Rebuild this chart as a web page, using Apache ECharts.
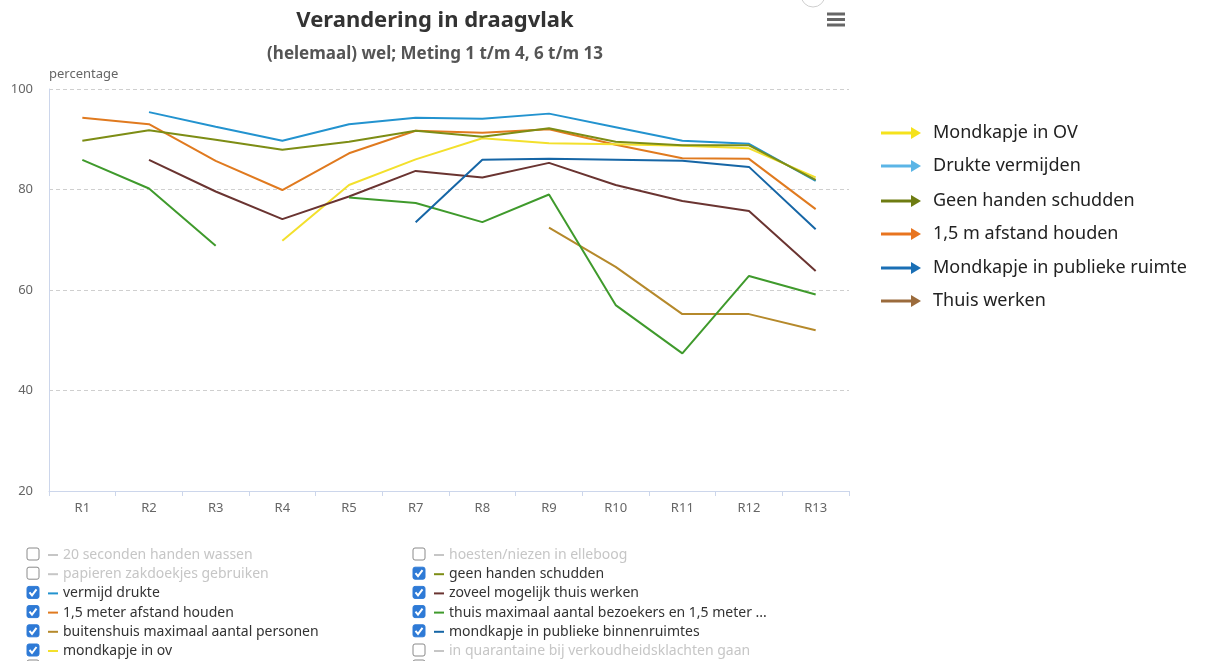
<!DOCTYPE html>
<html lang="nl">
<head>
    <meta charset="utf-8" />
    <title>Verandering in draagvlak</title>
    <script src="https://cdn.jsdelivr.net/npm/echarts@6/dist/echarts.min.js"></script>
    <style>
        html, body { margin: 0; padding: 0; background: #fff; }
        #chart { width: 1221px; height: 661px; }
    </style>
</head>
<body>
<div id="chart"></div>
<script>
// metingen (R6 ontbreekt)
var rondes = ['R1', 'R2', 'R3', 'R4', 'R5', 'R7', 'R8', 'R9', 'R10', 'R11', 'R12', 'R13'];
var yTicks = [20, 40, 60, 80, 100];

// percentages (helemaal) wel
var vermijdDrukte   = [null, 95.4, 92.5, 89.7, 93.0, 94.3, 94.1, 95.1, 92.4, 89.7, 89.1, 81.7];
var afstandHouden   = [94.3, 93.0, 85.7, 79.9, 87.2, 91.7, 91.3, 92.0, 88.9, 86.2, 86.1, 76.1];
var buitenshuis     = [null, null, null, null, null, null, null, 72.4, 64.6, 55.2, 55.2, 52.0];
var mondkapjeOv     = [null, null, null, 69.8, 80.9, 86.0, 90.2, 89.2, 89.0, 88.7, 88.2, 82.4];
var handenSchudden  = [89.7, 91.8, 89.9, 87.9, 89.5, 91.7, 90.5, 92.2, 89.5, 88.8, 88.8, 81.9];
var thuisWerken     = [null, 85.9, 79.6, 74.1, 78.6, 83.7, 82.4, 85.3, 80.9, 77.7, 75.7, 63.8];
var thuisBezoekers  = [85.9, 80.2, 68.8, null, 78.4, 77.3, 73.5, 79.0, 57.0, 47.4, 62.8, 59.1];
var mondkapjeBinnen = [null, null, null, null, null, 73.5, 85.9, 86.1, 85.9, 85.7, 84.5, 72.1];

// legenda kolommen
var legendLinks = ['20 seconden handen wassen', 'papieren zakdoekjes gebruiken', 'vermijd drukte',
    '1,5 meter afstand houden', 'buitenshuis maximaal aantal personen', 'mondkapje in ov'];
var legendRechts = ['hoesten/niezen in elleboog', 'geen handen schudden', 'zoveel mogelijk thuis werken',
    'thuis maximaal aantal bezoekers en 1,5 meter ...', 'mondkapje in publieke binnenruimtes',
    'in quarantaine bij verkoudheidsklachten gaan'];
var uitgezet = ['20 seconden handen wassen', 'papieren zakdoekjes gebruiken',
    'hoesten/niezen in elleboog', 'in quarantaine bij verkoudheidsklachten gaan'];

// toelichting rechts
var pijlTeksten = ['Mondkapje in OV', 'Drukte vermijden', 'Geen handen schudden',
    '1,5 m afstand houden', 'Mondkapje in publieke ruimte', 'Thuis werken'];
var pijlKleuren = ['#f5e21c', '#5bb5e6', '#6e7c12', '#e8741f', '#1a6fb5', '#9b6b3c'];

var font = '"Noto Sans", "Open Sans", sans-serif';

var reeksen = [
    { name: '20 seconden handen wassen', color: '#7cb5ec', data: [] },
    { name: 'papieren zakdoekjes gebruiken', color: '#434348', data: [] },
    { name: 'vermijd drukte', color: '#2393cf', data: vermijdDrukte },
    { name: '1,5 meter afstand houden', color: '#e07a1f', data: afstandHouden },
    { name: 'buitenshuis maximaal aantal personen', color: '#b5892b', data: buitenshuis },
    { name: 'mondkapje in ov', color: '#f3e02c', data: mondkapjeOv },
    { name: 'hoesten/niezen in elleboog', color: '#90ed7d', data: [] },
    { name: 'geen handen schudden', color: '#7d8d15', data: handenSchudden },
    { name: 'zoveel mogelijk thuis werken', color: '#6a3431', data: thuisWerken },
    { name: 'thuis maximaal aantal bezoekers en 1,5 meter ...', color: '#3f9a2c', data: thuisBezoekers },
    { name: 'mondkapje in publieke binnenruimtes', color: '#1666a6', data: mondkapjeBinnen },
    { name: 'in quarantaine bij verkoudheidsklachten gaan', color: '#f7a35c', data: [] }
];

var selected = {};
uitgezet.forEach(function (n) { selected[n] = false; });

// checkboxes, hamburger menu en pijlen
var graphics = [];
function checkbox(x, y, aan) {
    graphics.push({
        type: 'rect', shape: { x: x, y: y - 6, width: 12, height: 12, r: 2 },
        style: aan ? { fill: '#2e7ad6', stroke: '#2e7ad6' } : { fill: '#fff', stroke: '#8a8a8a', lineWidth: 1 }
    });
    if (aan) {
        graphics.push({
            type: 'polyline', shape: { points: [[x + 2.5, y], [x + 5, y + 3], [x + 9.5, y - 3]] },
            style: { stroke: '#fff', lineWidth: 2, fill: null }
        });
    }
}
for (var i = 0; i < 6; i++) {
    var yRow = 554 + i * 19.2;
    checkbox(27, yRow, uitgezet.indexOf(legendLinks[i]) < 0);
    checkbox(413, yRow, uitgezet.indexOf(legendRechts[i]) < 0);
}
checkbox(27, 666, false);
checkbox(413, 666, false);

[14, 19.5, 25].forEach(function (y) {
    graphics.push({ type: 'rect', shape: { x: 827, y: y - 1.5, width: 18, height: 3 }, style: { fill: '#666' } });
});
graphics.push({ type: 'circle', shape: { cx: 813, cy: -5, r: 12 }, style: { fill: '#fff', stroke: '#cfcfcf' } });

pijlTeksten.forEach(function (t, k) {
    var y = [133, 166, 201, 234, 268, 301][k];
    graphics.push({ type: 'line', shape: { x1: 881, y1: y, x2: 913, y2: y }, style: { stroke: pijlKleuren[k], lineWidth: 3 } });
    graphics.push({ type: 'polygon', shape: { points: [[911, y - 6], [921, y], [911, y + 6]] }, style: { fill: pijlKleuren[k] } });
    graphics.push({
        type: 'text', x: 933, y: y,
        style: { text: t, fill: '#222', font: '18px ' + font, textVerticalAlign: 'middle' }
    });
});

var legendBase = {
    orient: 'vertical',
    top: 542,
    height: 200,
    itemWidth: 10,
    itemHeight: 2,
    itemGap: 3.2,
    icon: 'rect',
    selected: selected,
    selectedMode: false,
    inactiveColor: '#c6c6c6',
    textStyle: { fontSize: 14, color: '#333', fontFamily: font, lineHeight: 16 }
};

var option = {
    animation: false,
    backgroundColor: '#fff',
    title: [
        { text: 'Verandering in draagvlak', left: 430, top: 5, textAlign: 'center',
          textStyle: { fontSize: 22, fontWeight: 'bold', color: '#333', fontFamily: font } },
        { text: '(helemaal) wel; Meting 1 t/m 4, 6 t/m 13', left: 430, top: 41, textAlign: 'center',
          textStyle: { fontSize: 17, fontWeight: 'bold', color: '#555', fontFamily: font } }
    ],
    legend: [
        Object.assign({}, legendBase, { left: 43, data: legendLinks }),
        Object.assign({}, legendBase, { left: 429, data: legendRechts })
    ],
    grid: { left: 49, right: 372, top: 89, bottom: 170 },
    xAxis: {
        type: 'category',
        data: rondes,
        boundaryGap: true,
        axisLine: { lineStyle: { color: '#ccd6eb' } },
        axisTick: { show: true, alignWithLabel: false, length: 5, lineStyle: { color: '#ccd6eb' } },
        axisLabel: { color: '#666', fontSize: 13, fontFamily: font, margin: 11 },
        splitLine: { show: false }
    },
    yAxis: {
        type: 'value',
        min: yTicks[0],
        max: yTicks[yTicks.length - 1],
        interval: 20,
        name: 'percentage',
        nameLocation: 'end',
        nameGap: 8,
        nameTextStyle: { color: '#666', fontSize: 13, fontFamily: font, align: 'left' },
        axisLine: { show: true, lineStyle: { color: '#ccd6eb' } },
        axisLabel: { color: '#666', fontSize: 13, fontFamily: font, margin: 16 },
        splitLine: { lineStyle: { color: '#cfcfcf', type: [4, 3] } }
    },
    series: reeksen.map(function (r) {
        return {
            name: r.name,
            type: 'line',
            data: r.data,
            color: r.color,
            showSymbol: false,
            connectNulls: false,
            lineStyle: { width: 2, color: r.color }
        };
    }),
    graphic: graphics
};

var chart = echarts.init(document.getElementById('chart'));
chart.setOption(option);
</script>
</body>
</html>
